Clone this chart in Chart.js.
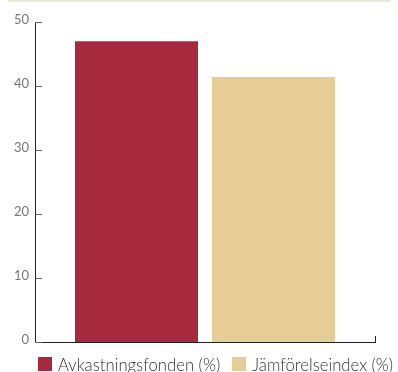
<!DOCTYPE html>
<html>
<head>
<meta charset="utf-8">
<script src="https://cdn.jsdelivr.net/npm/chart.js@4.4.1/dist/chart.umd.min.js"></script>
<style>
  html, body { margin: 0; padding: 0; background: #fff; overflow: hidden; }
  #wrap { position: relative; width: 398px; height: 372px; overflow: hidden; }
  #wrap canvas { position: absolute; left: 0; top: 0; }
  #legend {
    position: absolute; left: 38px; top: 356px;
    display: flex; align-items: flex-start; white-space: nowrap;
    font-family: Lato, sans-serif; font-weight: 300; font-size: 16.7px; line-height: 18px; color: #333;
  }
  #legend .item { display: flex; align-items: flex-start; margin-right: 12px; }
  #legend .box { width: 14px; height: 14px; margin: 1px 6px 0 0; }
</style>
</head>
<body>
<div id="wrap">
  <canvas id="chart" width="398" height="372" style="width:398px;height:372px"></canvas>
  <div id="legend"></div>
</div>
<script>
// data
const categories = [''];
const seriesNames = ['Avkastningsfonden (%)', 'Jämförelseindex (%)'];
const fundValues = [47.0];
const indexValues = [41.4];
const yTicks = [0, 10, 20, 30, 40, 50];

const RED = '#a7293e';
const SAND = '#e6cd96';
const AXIS = '#222';

// inward tick marks on the y axis, end tick on the x axis, thin rule on top
const axisMarks = {
  id: 'axisMarks',
  afterDraw(chart) {
    const { ctx, chartArea, scales } = chart;
    ctx.save();
    ctx.lineWidth = 1;
    ctx.strokeStyle = '#666';
    ctx.beginPath();
    yTicks.forEach(v => {
      const y = Math.round(scales.y.getPixelForValue(v)) + 0.5;
      ctx.moveTo(chartArea.left, y);
      ctx.lineTo(chartArea.left + 7, y);
    });
    ctx.stroke();
    ctx.strokeStyle = AXIS;
    ctx.beginPath();
    const xr = Math.round(chartArea.right) + 0.5;
    ctx.moveTo(xr, chartArea.bottom);
    ctx.lineTo(xr, chartArea.bottom - 6);
    ctx.stroke();
    ctx.fillStyle = '#e9e7d5';
    ctx.fillRect(8, 0, 382, 2);
    ctx.restore();
  }
};

const chart = new Chart(document.getElementById('chart'), {
  type: 'bar',
  data: {
    labels: categories,
    datasets: [
      { label: seriesNames[0], data: fundValues, backgroundColor: RED },
      { label: seriesNames[1], data: indexValues, backgroundColor: SAND }
    ]
  },
  options: {
    responsive: false,
    animation: false,
    categoryPercentage: 0.806,
    barPercentage: 0.898,
    layout: { padding: { top: 22, left: 0, right: 23, bottom: 30 } },
    scales: {
      x: {
        afterFit: s => { s.height = 0; },
        grid: { display: false, drawTicks: false },
        border: { display: true, color: AXIS, width: 1 },
        ticks: { display: false }
      },
      y: {
        min: 0,
        max: 50,
        afterFit: s => { s.width = 35; },
        afterBuildTicks: s => { s.ticks = yTicks.map(v => ({ value: v })); },
        grid: { display: false, drawTicks: false },
        border: { display: true, color: AXIS, width: 1 },
        ticks: {
          padding: 6,
          labelOffset: -2,
          color: '#777',
          font: { family: 'Lato', size: 13 }
        }
      }
    },
    plugins: {
      legend: { display: false },
      tooltip: { enabled: false }
    }
  },
  plugins: [axisMarks]
});

// legend built from the datasets
const legend = document.getElementById('legend');
chart.data.datasets.forEach(ds => {
  const item = document.createElement('div');
  item.className = 'item';
  const box = document.createElement('span');
  box.className = 'box';
  box.style.background = ds.backgroundColor;
  const label = document.createElement('span');
  label.textContent = ds.label;
  item.append(box, label);
  legend.append(item);
});
</script>
</body>
</html>
